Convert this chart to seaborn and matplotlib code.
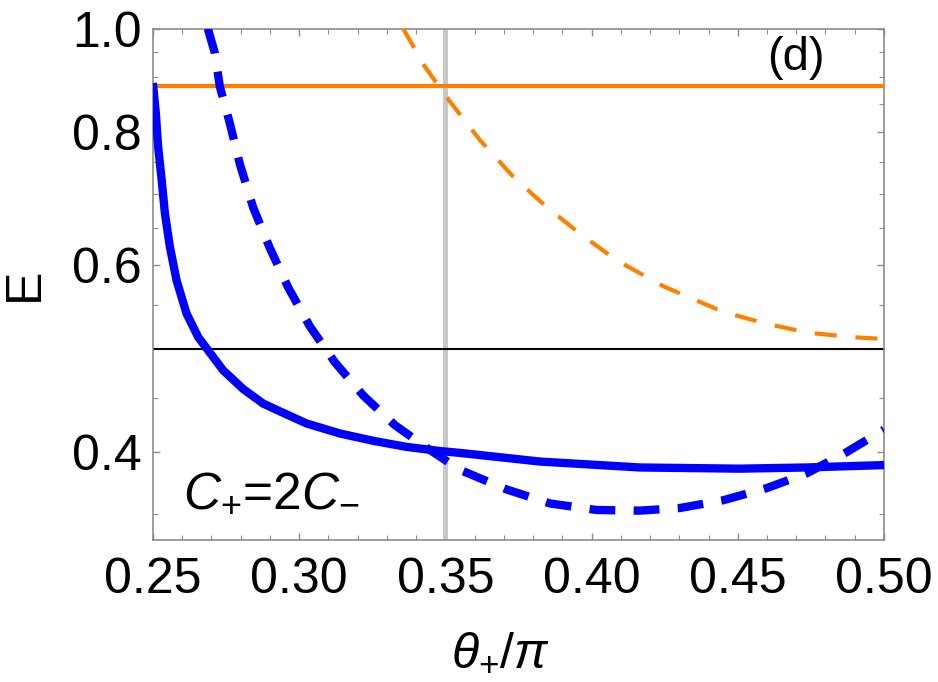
import numpy as np
import pandas as pd
import seaborn as sns
import matplotlib.pyplot as plt
from matplotlib.ticker import FixedLocator, NullFormatter

# values (x = theta_+/pi, y = E on a log axis)
solid_x = [0.2500, 0.2510, 0.2518, 0.2530, 0.2541, 0.2558, 0.2581, 0.2615, 0.2655,
           0.2689, 0.2740, 0.2809, 0.2877, 0.2934, 0.3026, 0.3140, 0.3253, 0.3368,
           0.3482, 0.3550, 0.3823, 0.4165, 0.4507, 0.4735, 0.5000]
solid_y = [0.889, 0.833, 0.774, 0.721, 0.671, 0.624, 0.580, 0.540, 0.513,
           0.4986, 0.4776, 0.4585, 0.4444, 0.437, 0.4256, 0.4165, 0.410, 0.4046,
           0.401, 0.3994, 0.392, 0.387, 0.386, 0.387, 0.389]

dashed_x = [0.2688, 0.2712, 0.2729, 0.2763, 0.2798, 0.2843, 0.2900, 0.2963, 0.3037,
            0.3122, 0.3220, 0.3328, 0.3447, 0.3550, 0.3710, 0.3858, 0.4017, 0.4165,
            0.4302, 0.4450, 0.4598, 0.4735, 0.4872, 0.5000]
dashed_y = [1.000, 0.948, 0.882, 0.815, 0.745, 0.679, 0.622, 0.571, 0.525,
            0.486, 0.452, 0.424, 0.402, 0.385, 0.369, 0.358, 0.353, 0.3525,
            0.3545, 0.3605, 0.370, 0.382, 0.400, 0.420]

orange_x = [0.3356, 0.3430, 0.3470, 0.3516, 0.3618, 0.3732, 0.3846, 0.3960, 0.4085,
            0.4200, 0.4244, 0.4449, 0.4600, 0.4740, 0.4894, 0.5000]
orange_y = [1.000, 0.921, 0.889, 0.854, 0.786, 0.726, 0.680, 0.642, 0.606,
            0.582, 0.573, 0.542, 0.528, 0.518, 0.513, 0.511]

orange_level = 0.884
black_level = 0.5
gray_x = 0.35

x_major = [0.25, 0.30, 0.35, 0.40, 0.45, 0.50]
x_minor = [round(0.25 + 0.01 * i, 2) for i in range(26)]
y_major = [0.4, 0.6, 0.8, 1.0]
y_minor = [0.35, 0.45, 0.5, 0.55, 0.65, 0.7, 0.75, 0.85, 0.9, 0.95]

blue = "#0000ff"
orange = "#ff8000"

sns.set_style("ticks")
plt.rcParams['font.family'] = ['Liberation Sans', 'DejaVu Sans']
plt.rcParams['mathtext.fontset'] = 'custom'
plt.rcParams['mathtext.rm'] = 'Liberation Sans'
plt.rcParams['mathtext.it'] = 'Liberation Sans:italic'
plt.rcParams['text.color'] = 'black'
plt.rcParams['axes.labelcolor'] = 'black'

fig, ax = plt.subplots(figsize=(9.38, 6.82), dpi=100)
fig.subplots_adjust(left=0.163, right=0.9424, top=0.958, bottom=0.208)

ax.axvline(gray_x, color="#c8c8c8", lw=3.6, zorder=1)
ax.axhline(black_level, color="black", lw=1.5, zorder=2)
ax.axhline(orange_level, color=orange, lw=3.0, zorder=3)

df_solid = pd.DataFrame({"x": solid_x, "y": solid_y})
df_dash = pd.DataFrame({"x": dashed_x, "y": dashed_y})
df_or = pd.DataFrame({"x": orange_x, "y": orange_y})

sns.lineplot(data=df_or, x="x", y="y", ax=ax, color=orange, lw=3.0,
             linestyle=(0, (5.3, 4.5)), zorder=4)
sns.lineplot(data=df_dash, x="x", y="y", ax=ax, color=blue, lw=6.0,
             linestyle=(0, (3.1, 2.2)), dash_joinstyle="round", zorder=5)
sns.lineplot(data=df_solid, x="x", y="y", ax=ax, color=blue, lw=6.0,
             solid_capstyle="butt", solid_joinstyle="round", zorder=6)

ax.set_yscale("log")
ax.set_xlim(0.25, 0.50)
ax.set_ylim(0.3307, 1.0)

ax.xaxis.set_major_locator(FixedLocator(x_major))
ax.xaxis.set_minor_locator(FixedLocator(x_minor))
ax.set_xticklabels(["%.2f" % v for v in x_major])
ax.yaxis.set_major_locator(FixedLocator(y_major))
ax.yaxis.set_minor_locator(FixedLocator(y_minor))
ax.set_yticklabels(["%.1f" % v for v in y_major])
ax.yaxis.set_minor_formatter(NullFormatter())

for s in ax.spines.values():
    s.set_color("#8c8c8c")
    s.set_linewidth(1.2)
ax.tick_params(which="both", direction="in", top=True, right=True,
               color="#8c8c8c", labelsize=36, labelcolor="black")
ax.tick_params(which="major", length=5, width=1.0)
ax.tick_params(which="minor", length=3.5, width=0.8)
ax.tick_params(axis="x", which="major", pad=12)
ax.tick_params(axis="y", which="major", pad=8)

ax.set_xlabel(r"$\theta_{+}/\pi$", fontsize=36)
ax.set_ylabel("E", fontsize=36)
ax.xaxis.set_label_coords(0.475, -0.176)
ax.yaxis.set_label_coords(-0.144, 0.5)

ax.text(0.47, 0.938, "(d)", fontsize=34, ha="center", va="center", zorder=7)
ax.text(0.2604, 0.366, r"$C_{+}$=2$C_{-}$", fontsize=37, ha="left", va="center", zorder=7)

fig.savefig("out.png", dpi=100)
